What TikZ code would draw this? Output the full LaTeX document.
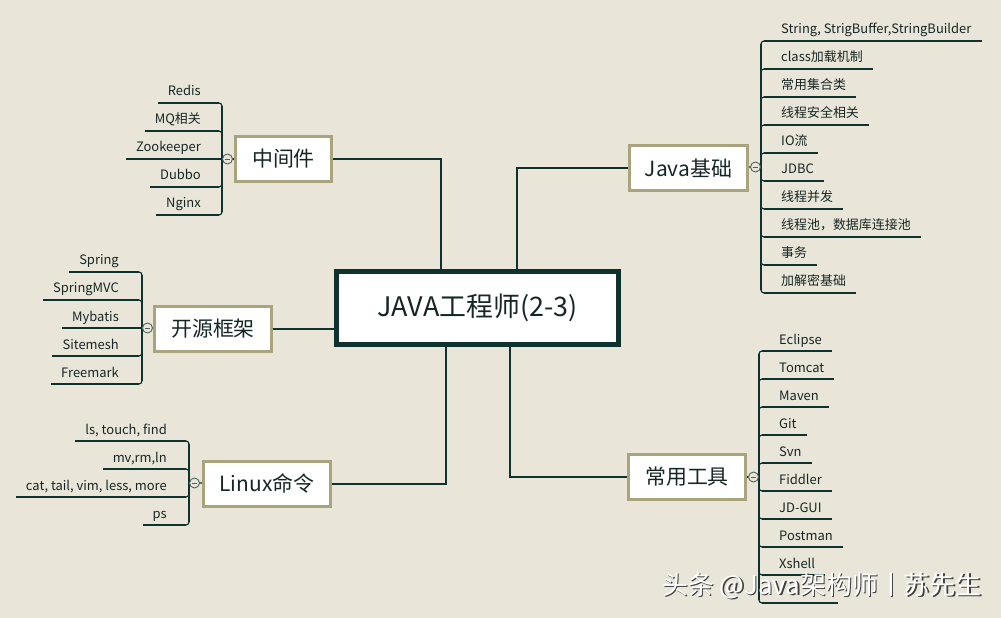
\documentclass[tikz,border=0pt]{standalone}
\usepackage{fontspec}
\setmainfont{Noto Sans CJK SC}
\usetikzlibrary{calc}
\definecolor{bg}{HTML}{E9E6D9}
\definecolor{ink}{HTML}{0E322D}
\definecolor{olive}{HTML}{A9A47E}
\definecolor{txt}{HTML}{162624}
\begin{document}
\begin{tikzpicture}[x=1bp,y=-1bp,
  topic/.style={draw=olive, line width=3bp, fill=white, inner sep=0pt, font=\fontsize{21}{24}\selectfont, text=txt, minimum height=45bp},
  link/.style={draw=ink, line width=2bp},
  sub/.style={font=\fontsize{13}{16}\selectfont, text=txt, inner sep=0pt},
  twig/.style={draw=ink, line width=1.2bp},
  elbow/.style={draw=ink, line width=1.2bp, rounded corners=3bp},
  knob/.style={circle, draw=ink!75, fill=bg, line width=0.9bp, minimum size=10bp, inner sep=0pt,
    path picture={\draw[ink!75, line width=0.8bp] ($(path picture bounding box.west)+(2.5,0)$) -- ($(path picture bounding box.east)+(-2.5,0)$);}}
]
\fill[bg] (0,0) rectangle (1001,618);
\useasboundingbox (0,0) rectangle (1001,618);

% root
\node[draw=ink, line width=5bp, fill=white, minimum width=282bp, minimum height=73bp, inner sep=0pt,
  font=\fontsize{27}{30}\selectfont, text=txt] (root) at (477.5,308) {JAVA工程师(2-3)};

% topics
\node[topic, minimum width=96bp] (mw) at (283.5,159) {中间件};
\node[topic, minimum width=118bp] (jb) at (688.5,168) {Java基础};
\node[topic, minimum width=117bp] (os) at (213,328.5) {开源框架};
\node[topic, minimum width=127bp] (lx) at (267,483.5) {Linux命令};
\node[topic, minimum width=117bp] (tl) at (687,477) {常用工具};

% root links
\coordinate (r1) at (441,0);
\coordinate (r2) at (517,0);
\coordinate (r3) at (446,0);
\coordinate (r4) at (510,0);
\draw[link] (mw.east) -| (r1 |- root.north);
\draw[link] (jb.west) -| (r2 |- root.north);
\draw[link] (os.east) -- (os.east -| root.west);
\draw[link] (lx.east) -| (r3 |- root.south);
\draw[link] (tl.west) -| (r4 |- root.south);

% trunks
\coordinate (mwt) at (222,159);
\coordinate (jbt) at (761,167);
\coordinate (ost) at (142,328);
\coordinate (lxt) at (189,483);
\coordinate (tlt) at (759,477);
\draw[twig] (222,106) -- (222,212);
\draw[twig] (761,44) -- (761,290);
\draw[twig] (142,275) -- (142,381);
\draw[twig] (189,444) -- (189,522);
\draw[twig] (759,354) -- (759,600);

% knobs
\node[knob] (mwc) at (227.5,159) {};
\node[knob] (jbc) at (755.5,167) {};
\node[knob] (osc) at (147.5,328) {};
\node[knob] (lxc) at (194.5,483) {};
\node[knob] (tlc) at (753.5,477) {};
\draw[twig] (mwc) -- (mw);
\draw[twig] (jbc) -- (jb);
\draw[twig] (osc) -- (os);
\draw[twig] (lxc) -- (lx);
\draw[twig] (tlc) -- (tl);

% 中间件 items
\foreach \lab [count=\i from 0, evaluate=\i as \yy using 103+28*\i] in {Redis,MQ相关,Zookeeper,Dubbo,Nginx} {
  \node[sub, anchor=base east] (mw\i) at (201,\yy-7) {\lab};
  \ifnum\i=2
    \draw[twig] (mwt) -- ($(mw\i.base west)+(-10,7)$);
  \else
    \ifdim \yy pt<159pt \def\s{1}\else\def\s{-1}\fi
    \draw[elbow] (222,\yy+3*\s) -- (222,\yy) -- (219,\yy);
    \draw[twig] (219,\yy) -- ($(mw\i.base west)+(-10,7)$);
  \fi
}

% 开源框架 items
\foreach \lab [count=\i from 0, evaluate=\i as \yy using 272+28*\i] in {Spring,SpringMVC,Mybatis,Sitemesh,Freemark} {
  \node[sub, anchor=base east] (os\i) at (119,\yy-7) {\lab};
  \ifnum\i=2
    \draw[twig] (ost) -- ($(os\i.base west)+(-10,7)$);
  \else
    \ifdim \yy pt<328pt \def\s{1}\else\def\s{-1}\fi
    \draw[elbow] (142,\yy+3*\s) -- (142,\yy) -- (139,\yy);
    \draw[twig] (139,\yy) -- ($(os\i.base west)+(-10,7)$);
  \fi
}

% Linux命令 items
\foreach \lab [count=\i from 0, evaluate=\i as \yy using 441+28*\i] in {{ls, touch, find},{mv,rm,ln},{cat, tail, vim, less, more},ps} {
  \node[sub, anchor=base east] (lx\i) at (167,\yy-7) {\lab};
  \ifdim \yy pt<483pt \def\s{1}\else\def\s{-1}\fi
  \draw[elbow] (189,\yy+3*\s) -- (189,\yy) -- (186,\yy);
  \draw[twig] (186,\yy) -- ($(lx\i.base west)+(-10,7)$);
}

% Java基础 items
\foreach \lab [count=\i from 0, evaluate=\i as \yy using 41+28*\i] in {{String, StrigBuffer,StringBuilder},class加载机制,常用集合类,线程安全相关,IO流,JDBC,线程并发,线程池，数据库连接池,事务,加解密基础} {
  \node[sub, anchor=base west] (jb\i) at (781,\yy-7) {\lab};
  \ifdim \yy pt<167pt \def\s{1}\else\def\s{-1}\fi
  \draw[elbow] (761,\yy+3*\s) -- (761,\yy) -- (764,\yy);
  \draw[twig] (764,\yy) -- ($(jb\i.base east)+(10,7)$);
}

% 常用工具 items
\foreach \lab [count=\i from 0, evaluate=\i as \yy using 351+28*\i] in {Eclipse,Tomcat,Maven,Git,Svn,Fiddler,JD-GUI,Postman,Xshell} {
  \node[sub, anchor=base west] (tl\i) at (779,\yy-7) {\lab};
  \ifdim \yy pt<477pt \def\s{1}\else\def\s{-1}\fi
  \draw[elbow] (759,\yy+3*\s) -- (759,\yy) -- (762,\yy);
  \draw[twig] (762,\yy) -- ($(tl\i.base east)+(10,7)$);
}
\coordinate (tl9) at (838,603);
\draw[elbow] (759,600) -- (759,603) -- (762,603);
\draw[twig] (762,603) -- (tl9);

% watermark
\node[anchor=west, inner sep=0pt, font=\fontsize{26}{30}\selectfont, text=black!75] (wms) at (663.3,587.3) {头条 @Java架构师丨苏先生};
\node[anchor=west, inner sep=0pt, font=\fontsize{26}{30}\selectfont, text=white] (wm) at (662,586) {头条 @Java架构师丨苏先生};
\end{tikzpicture}
\end{document}
